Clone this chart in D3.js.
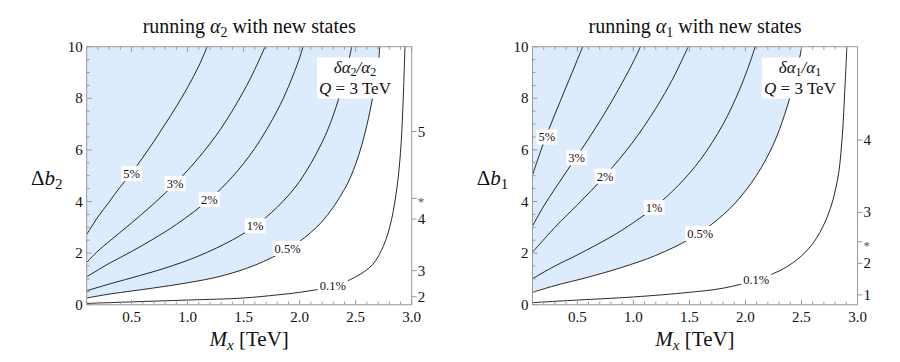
<!DOCTYPE html>
<html><head><meta charset="utf-8">
<script src="https://cdn.jsdelivr.net/npm/d3@7"></script>
<style>
body{margin:0;background:#fff}
svg{display:block}
svg text{font-family:"Liberation Serif","Times New Roman",Times,serif !important;fill:#111}
</style>
</head><body>
<svg id="chart" width="900" height="362" font-family="Liberation Serif, Times New Roman, serif"></svg>
<script>
// ---------------- data ----------------
const xTicks = [0.5, 1.0, 1.5, 2.0, 2.5, 3.0];
const yTicks = [0, 2, 4, 6, 8, 10];
const contourLevels = ["5%", "3%", "2%", "1%", "0.5%", "0.1%"];

// running alpha_2 : contours [M_x (TeV), Delta b_2]
const alpha2_5  = [[0.1,2.72],[0.2,3.40],[0.3,3.98],[0.4,4.57],[0.5,5.10],[0.6,5.70],[0.7,6.33],[0.8,7.00],[0.9,7.68],[1.0,8.42],[1.1,9.25],[1.175,10]];
const alpha2_3  = [[0.1,1.64],[0.2,2.08],[0.3,2.45],[0.5,3.17],[0.7,3.92],[0.9,4.75],[1.1,5.70],[1.3,6.84],[1.5,8.27],[1.6,9.12],[1.692,10]];
const alpha2_2  = [[0.1,1.08],[0.3,1.60],[0.5,2.06],[0.7,2.56],[0.9,3.11],[1.2,4.10],[1.4,4.96],[1.6,6.06],[1.8,7.52],[1.9,8.45],[2.0,9.57],[2.03,10]];
const alpha2_1  = [[0.1,0.54],[0.3,0.80],[0.5,1.04],[0.8,1.42],[1.1,1.89],[1.4,2.51],[1.6,3.05],[1.8,3.78],[2.0,4.78],[2.2,6.29],[2.3,7.34],[2.4,8.78],[2.465,10]];
const alpha2_05 = [[0.1,0.26],[0.3,0.41],[0.5,0.53],[0.7,0.65],[1.0,0.85],[1.3,1.11],[1.6,1.53],[1.9,2.16],[2.0,2.45],[2.2,3.22],[2.4,4.47],[2.5,5.45],[2.6,6.95],[2.7,9.3],[2.715,10]];
const alpha2_01 = [[0.1,0.05],[0.5,0.11],[1.0,0.18],[1.5,0.26],[1.8,0.38],[2.0,0.48],[2.3,0.72],[2.5,1.08],[2.65,1.55],[2.75,2.3],[2.82,3.3],[2.87,4.6],[2.9,5.9],[2.92,7.5],[2.94,10]];
const alpha2LabelPos = [[0.50,5.08],[0.889,4.70],[1.195,4.08],[1.603,3.06],[1.892,2.18],[2.296,0.72]];
const alpha2AuxTicks = [[6.71,"5"],[4.12,"*"],[3.32,"4"],[1.32,"3"],[0.31,"2"]];

// running alpha_1 : contours [M_x (TeV), Delta b_1]
const alpha1_5  = [[0.1,5.02],[0.15,5.67],[0.2,6.28],[0.25,6.84],[0.3,7.38],[0.35,7.91],[0.4,8.44],[0.45,8.96],[0.5,9.49],[0.548,10]];
const alpha1_3  = [[0.1,3.05],[0.2,3.82],[0.3,4.49],[0.4,5.14],[0.5,5.78],[0.6,6.43],[0.7,7.11],[0.8,7.83],[0.9,8.60],[1.0,9.42],[1.063,10]];
const alpha1_2  = [[0.1,2.03],[0.3,3.0],[0.5,3.87],[0.75,5.01],[1.0,6.33],[1.2,7.61],[1.35,8.74],[1.45,9.63],[1.49,10]];
const alpha1_1  = [[0.1,1.01],[0.3,1.50],[0.5,1.93],[0.8,2.63],[1.0,3.18],[1.2,3.82],[1.4,4.62],[1.6,5.63],[1.8,6.99],[1.95,8.36],[2.05,9.51],[2.087,10]];
const alpha1_05 = [[0.1,0.48],[0.3,0.74],[0.6,1.07],[0.9,1.45],[1.2,1.91],[1.5,2.54],[1.7,3.12],[1.9,3.90],[2.1,5.02],[2.25,6.22],[2.35,7.37],[2.45,8.89],[2.503,10]];
const alpha1_01 = [[0.1,0.08],[0.5,0.18],[1.0,0.30],[1.5,0.48],[1.8,0.64],[2.1,0.97],[2.37,1.47],[2.58,2.25],[2.73,3.4],[2.82,4.8],[2.86,6.3],[2.89,8.6],[2.905,10]];
const alpha1LabelPos = [[0.227,6.50],[0.494,5.69],[0.747,4.98],[1.185,3.77],[1.596,2.76],[2.096,0.95]];
const alpha1AuxTicks = [[6.38,"4"],[3.58,"3"],[2.44,"*"],[1.60,"2"],[0.38,"1"]];

// ---------------- layout ----------------
const FONT = "'Liberation Serif', 'Times New Roman', Times, serif";
const svg = d3.select("#chart");
const FILL = "#dcecfc", FRAME = "#9a9a9a";
const panels = [
  {left: 86.7, sub: "2", contours: [alpha2_5, alpha2_3, alpha2_2, alpha2_1, alpha2_05, alpha2_01],
   labels: alpha2LabelPos, aux: alpha2AuxTicks, legendX: 355},
  {left: 532.5, sub: "1", contours: [alpha1_5, alpha1_3, alpha1_2, alpha1_1, alpha1_05, alpha1_01],
   labels: alpha1LabelPos, aux: alpha1AuxTicks, legendX: 800}
];
const W = 325, TOP = 46.7, BOT = 304.7;

function txt(sel) { return sel.append("text").style("font-family", FONT); }

panels.forEach((p, pi) => {
  const x = d3.scaleLinear().domain([0.1, 3.0]).range([p.left, p.left + W]);
  const y = d3.scaleLinear().domain([0, 10]).range([BOT, TOP]);
  const g = svg.append("g");
  const clipId = "clip" + pi;
  svg.append("clipPath").attr("id", clipId).append("rect")
    .attr("x", x(0.1)).attr("y", y(10)).attr("width", W).attr("height", BOT - TOP);

  const line = d3.line().x(d => x(d[0])).y(d => y(d[1])).curve(d3.curveCatmullRom.alpha(0.5));

  // shaded region (above the 0.5% contour), closed to the top-left corner
  g.append("path")
    .attr("d", line(p.contours[4]) + "L" + x(0.1) + "," + y(10) + "Z")
    .attr("fill", FILL).attr("clip-path", `url(#${clipId})`);

  // contour lines
  p.contours.forEach(c => {
    g.append("path").attr("d", line(c)).attr("fill", "none")
      .attr("stroke", "#111").attr("stroke-width", 0.9)
      .attr("clip-path", `url(#${clipId})`);
  });

  // contour labels
  const lg = g.append("g");
  p.labels.forEach((lp, i) => {
    const r = lg.append("rect");
    const t = txt(lg).attr("x", x(lp[0])).attr("y", y(lp[1]) + 4.3)
      .attr("text-anchor", "middle").attr("font-size", 12.5).text(contourLevels[i]);
    const w = t.node().getComputedTextLength();
    r.attr("x", x(lp[0]) - w / 2 - 2).attr("y", y(lp[1]) - 7.5)
      .attr("width", w + 4).attr("height", 15).attr("fill", "#fff");
  });

  // legend box
  g.append("rect").attr("x", p.legendX - 38).attr("y", 57.5).attr("width", 76).attr("height", 41).attr("fill", "#fff");
  const l1 = txt(g).attr("x", p.legendX).attr("y", 72.5).attr("text-anchor", "middle").attr("font-size", 17);
  l1.append("tspan").attr("font-style", "italic").text("δα");
  l1.append("tspan").attr("font-size", 12).attr("dy", 3.5).text(p.sub);
  l1.append("tspan").attr("dy", -3.5).attr("font-style", "italic").text("/α");
  l1.append("tspan").attr("font-size", 12).attr("dy", 3.5).text(p.sub);
  const l2 = txt(g).attr("x", p.legendX).attr("y", 94).attr("text-anchor", "middle").attr("font-size", 17);
  l2.append("tspan").attr("font-style", "italic").text("Q");
  l2.append("tspan").text(" = 3 TeV");

  // frame
  g.append("rect").attr("x", x(0.1)).attr("y", y(10)).attr("width", W).attr("height", BOT - TOP)
    .attr("fill", "none").attr("stroke", FRAME).attr("stroke-width", 1);

  // bottom/top ticks
  d3.range(1, 31).forEach(i => {
    const v = i / 10;
    const major = i % 5 === 0;
    const len = major ? 5 : 3;
    g.append("line").attr("x1", x(v)).attr("x2", x(v)).attr("y1", BOT).attr("y2", BOT - len).attr("stroke", FRAME);
    g.append("line").attr("x1", x(v)).attr("x2", x(v)).attr("y1", TOP).attr("y2", TOP + len).attr("stroke", FRAME);
  });
  // left ticks
  d3.range(0, 21).forEach(i => {
    const v = i / 2;
    const major = i % 4 === 0;
    const len = major ? 5 : 3;
    g.append("line").attr("x1", x(0.1)).attr("x2", x(0.1) + len).attr("y1", y(v)).attr("y2", y(v)).attr("stroke", FRAME);
  });
  // tick labels
  xTicks.forEach(v => {
    txt(g).attr("x", x(v)).attr("y", 321.5).attr("text-anchor", "middle").attr("font-size", 15).text(v.toFixed(1));
  });
  yTicks.forEach(v => {
    txt(g).attr("x", x(0.1) - 4).attr("y", y(v) + 5).attr("text-anchor", "end").attr("font-size", 15).text(v);
  });
  // right auxiliary axis
  p.aux.forEach(a => {
    g.append("line").attr("x1", x(3)).attr("x2", x(3) + 5).attr("y1", y(a[0])).attr("y2", y(a[0])).attr("stroke", FRAME);
    const star = a[1] === "*";
    txt(g).attr("x", x(3) + 6).attr("y", y(a[0]) + (star ? 8 : 5))
      .attr("font-size", star ? 13 : 15).style("fill", star ? "#555" : "#111").text(a[1]);
  });

  // title
  const cx = p.left + W / 2;
  const t = txt(svg).attr("x", cx).attr("y", 32.5).attr("text-anchor", "middle").attr("font-size", 20);
  t.append("tspan").text("running ");
  t.append("tspan").attr("font-style", "italic").text("α");
  t.append("tspan").attr("font-size", 14).attr("dy", 4).text(p.sub);
  t.append("tspan").attr("dy", -4).text(" with new states");

  // x label
  const xl = txt(svg).attr("x", cx).attr("y", 346).attr("text-anchor", "middle").attr("font-size", 21);
  xl.append("tspan").attr("font-style", "italic").text("M");
  xl.append("tspan").attr("font-style", "italic").attr("font-size", 15).attr("dy", 4).text("x");
  xl.append("tspan").attr("dy", -4).text(" [TeV]");

  // y label
  const yl = txt(svg).attr("x", p.left - 40).attr("y", 184.5).attr("text-anchor", "middle").attr("font-size", 21);
  yl.append("tspan").text("Δ");
  yl.append("tspan").attr("font-style", "italic").text("b");
  yl.append("tspan").attr("font-size", 15).attr("dy", 4).text(p.sub);
});
</script>
</body></html>
